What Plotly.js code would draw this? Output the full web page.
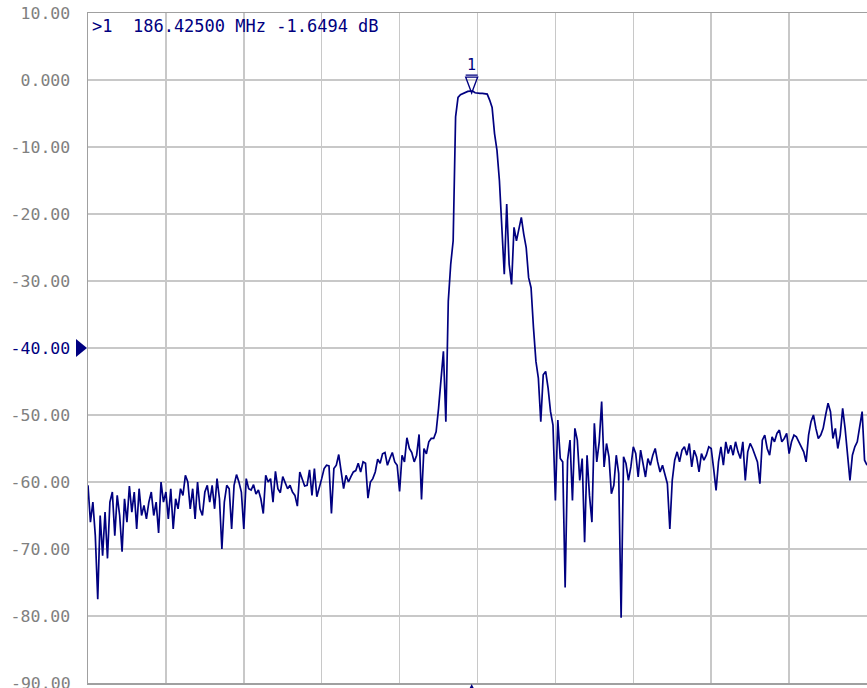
<!DOCTYPE html>
<html>
<head>
<meta charset="utf-8">
<script src="https://cdn.plot.ly/plotly-3.0.1.min.js"></script>
<style>html,body{margin:0;padding:0;background:#fff;}#chart{width:867px;height:688px;}</style>
</head>
<body>
<div id="chart"></div>
<script>
// Sweep definition (MHz)
const freqStart = 181.5;
const freqStop = 191.5;

// Trace values (dB), one per sweep point
const traceDb = [
  -60.5, -66, -63, -68, -77.5, -65, -71, -64.5, -71.4, -63,
  -61.5, -68, -62, -65, -70.4, -62.5, -66, -60.6, -64.5, -61.5,
  -67, -61, -65, -63.5, -65.5, -63, -61.5, -65, -63, -67.6,
  -60, -63, -61.5, -65.5, -61, -67, -62.5, -64, -61, -62,
  -59, -60, -64, -61, -65.5, -60, -64, -65, -61.5, -60.5,
  -63, -60.5, -64, -59.5, -62.5, -70, -63, -60.5, -61, -67,
  -60.5, -58.9, -60, -61.5, -67, -59.5, -61,
  -61.2, -60.4, -61.8, -61.2, -62.5, -64.7, -59, -60, -59.5, -63,
  -58.4, -61, -61.6, -59.2, -60.2, -61, -60.5, -61.5, -62, -63.6,
  -58.5, -59.5, -60.6, -60.5, -58.2, -62, -58, -62.2, -61, -59.5,
  -58, -57.5, -57.6, -64.7, -58, -57.5, -55.9, -58.5, -61, -59,
  -60, -59.2, -58.5, -58.3, -57.2, -58.5, -57, -57.2, -62.4, -60,
  -59.5, -58.5, -56.6, -57.2, -55.8, -55.6, -57.5, -56.5, -55.6, -57,
  -57.5, -61.4, -56, -57, -53.4, -55, -55.6, -57, -56, -52.9, -62.6,
  -55, -55.8, -54, -53.5, -53.5, -52.5, -49, -44, -40.5, -51, -33, -27.5, -24,
  -5.5, -2.6, -2.2, -2.0, -1.85, -1.7, -1.66, -1.65, -1.9, -2.0, -2.0, -2.0, -2.0, -2.1, -3.0, -4.1,
  -8, -10.5, -15, -22, -29, -18.5, -27.5, -30.5, -22, -24, -22, -20.5, -23, -25, -29.5, -31, -37,
  -42, -44.5, -51, -44, -43.5, -46, -49.5, -51.5, -62.75, -50.75,
  -56.5, -57, -75.75, -56.75, -53.75, -62.75, -52,
  -53.75, -59.75, -56.5, -69, -56, -62, -66, -51.25, -57, -54,
  -48, -57.75, -54.25, -56.25, -61.75, -60.5, -56, -58.75, -80.25, -56.25,
  -57.25, -59.75, -57.75, -54.75, -55.75, -59.25, -55.25, -57.5, -59.25, -56.5,
  -57.5, -56, -55, -57, -58.5, -57.5, -58.75, -60.25, -67, -59.75,
  -56.75, -55.5, -57, -55.25, -54.75, -56, -54.25, -57.75, -55.25, -56.25,
  -58.5, -55.75, -56.75, -56, -54.75, -55, -58, -61.25, -57, -54.75,
  -57.5, -54, -55.75, -54.5, -56, -54, -55.5, -56.5, -54, -59.75,
  -55.5, -54.25, -55, -56, -57, -60.25, -53.75, -53, -55, -56,
  -53.25, -54, -52.75, -52.25, -54, -53.5, -52.75, -55.75, -54, -53,
  -53.25, -54, -54.75, -55.5, -57, -53, -51, -50, -52, -53.5,
  -53, -52, -50, -48.25, -49.5, -53.5, -52, -55, -53, -49,
  -52, -55.5, -59.75, -56, -54.75, -54, -51.5, -49.5, -56.75, -57.5
];

// Marker 1
const markerFreq = 186.425;
const markerDb = -1.6494;
const markerLabel = '>1\u00a0\u00a0186.42500\u00a0MHz\u00a0-1.6494\u00a0dB';

// Reference level
const refLevel = -40;

// Y axis ticks (the bottom one, -90.00, is drawn as a separate label)
const yTickVals = [10, 0, -10, -20, -30, -40, -50, -60, -70, -80];
const yTickText = ['10.00', '0.000', '-10.00', '-20.00', '-30.00',
  '<span style="color:#000080">-40.00</span>', '-50.00', '-60.00', '-70.00', '-80.00'];
const yBottomVal = -90;
const yBottomText = '-90.00';

const step = (freqStop - freqStart) / (traceDb.length - 1);
const freqs = traceDb.map((_, i) => freqStart + i * step);

const navy = '#000080';
const trace = {
  x: freqs, y: traceDb, type: 'scatter', mode: 'lines',
  line: {color: navy, width: 1.7}, hoverinfo: 'skip', showlegend: false
};

const markerPaperX = (markerFreq - freqStart) / (freqStop - freqStart);

const layout = {
  width: 867, height: 688,
  margin: {l: 88, r: 0, t: 13, b: 5, pad: 0},
  paper_bgcolor: '#ffffff', plot_bgcolor: '#ffffff',
  showlegend: false,
  xaxis: {
    range: [freqStart, freqStop], tick0: freqStart, dtick: 1,
    showticklabels: false, ticks: '',
    showgrid: true, gridcolor: '#c8c8c8', gridwidth: 1.5,
    zeroline: false, showline: true, linecolor: '#a0a0a0', linewidth: 1.5, mirror: true
  },
  yaxis: {
    range: [-90, 10], tickmode: 'array', tickvals: yTickVals, ticktext: yTickText,
    tickfont: {family: 'DejaVu Sans Mono', size: 16.5, color: '#808080'},
    ticks: 'outside', ticklen: 13, tickcolor: 'rgba(0,0,0,0)',
    showgrid: true, gridcolor: '#c8c8c8', gridwidth: 1.5,
    zeroline: false, showline: true, linecolor: '#a0a0a0', linewidth: 1.5, mirror: true
  },
  annotations: [
    {xref: 'paper', yref: 'paper', x: 0, y: 1, xanchor: 'left', yanchor: 'top',
     xshift: 2, yshift: -1, showarrow: false, text: markerLabel,
     font: {family: 'DejaVu Sans Mono', size: 17, color: navy}},
    {xref: 'x', yref: 'y', x: markerFreq, y: markerDb, yshift: 26, showarrow: false,
     text: '1', font: {family: 'DejaVu Sans Mono', size: 15, color: navy}},
    {xref: 'paper', yref: 'y', x: 0, y: yBottomVal, xanchor: 'right', yanchor: 'middle',
     xshift: -15, showarrow: false, text: yBottomText,
     font: {family: 'DejaVu Sans Mono', size: 16.5, color: '#808080'}}
  ],
  shapes: [
    {type: 'path', xref: 'x', yref: 'y', xsizemode: 'pixel', ysizemode: 'pixel',
     xanchor: markerFreq, yanchor: markerDb,
     path: 'M-6,14 L6,14 L0,-2 Z M-6,16 L6,16',
     line: {color: navy, width: 1.3}},
    {type: 'path', xref: 'paper', yref: 'y', xsizemode: 'pixel', ysizemode: 'pixel',
     xanchor: 0, yanchor: refLevel,
     path: 'M-12,9 L-12,-9 L-1,0 Z',
     fillcolor: navy, line: {color: navy, width: 0}},
    {type: 'path', xref: 'paper', yref: 'paper', xsizemode: 'pixel', ysizemode: 'pixel',
     xanchor: markerPaperX, yanchor: 0,
     path: 'M-4,-9 L4,-9 L0,-1 Z',
     fillcolor: navy, line: {color: navy, width: 0}}
  ]
};

Plotly.newPlot('chart', [trace], layout, {staticPlot: true, displayModeBar: false});
</script>
</body>
</html>
